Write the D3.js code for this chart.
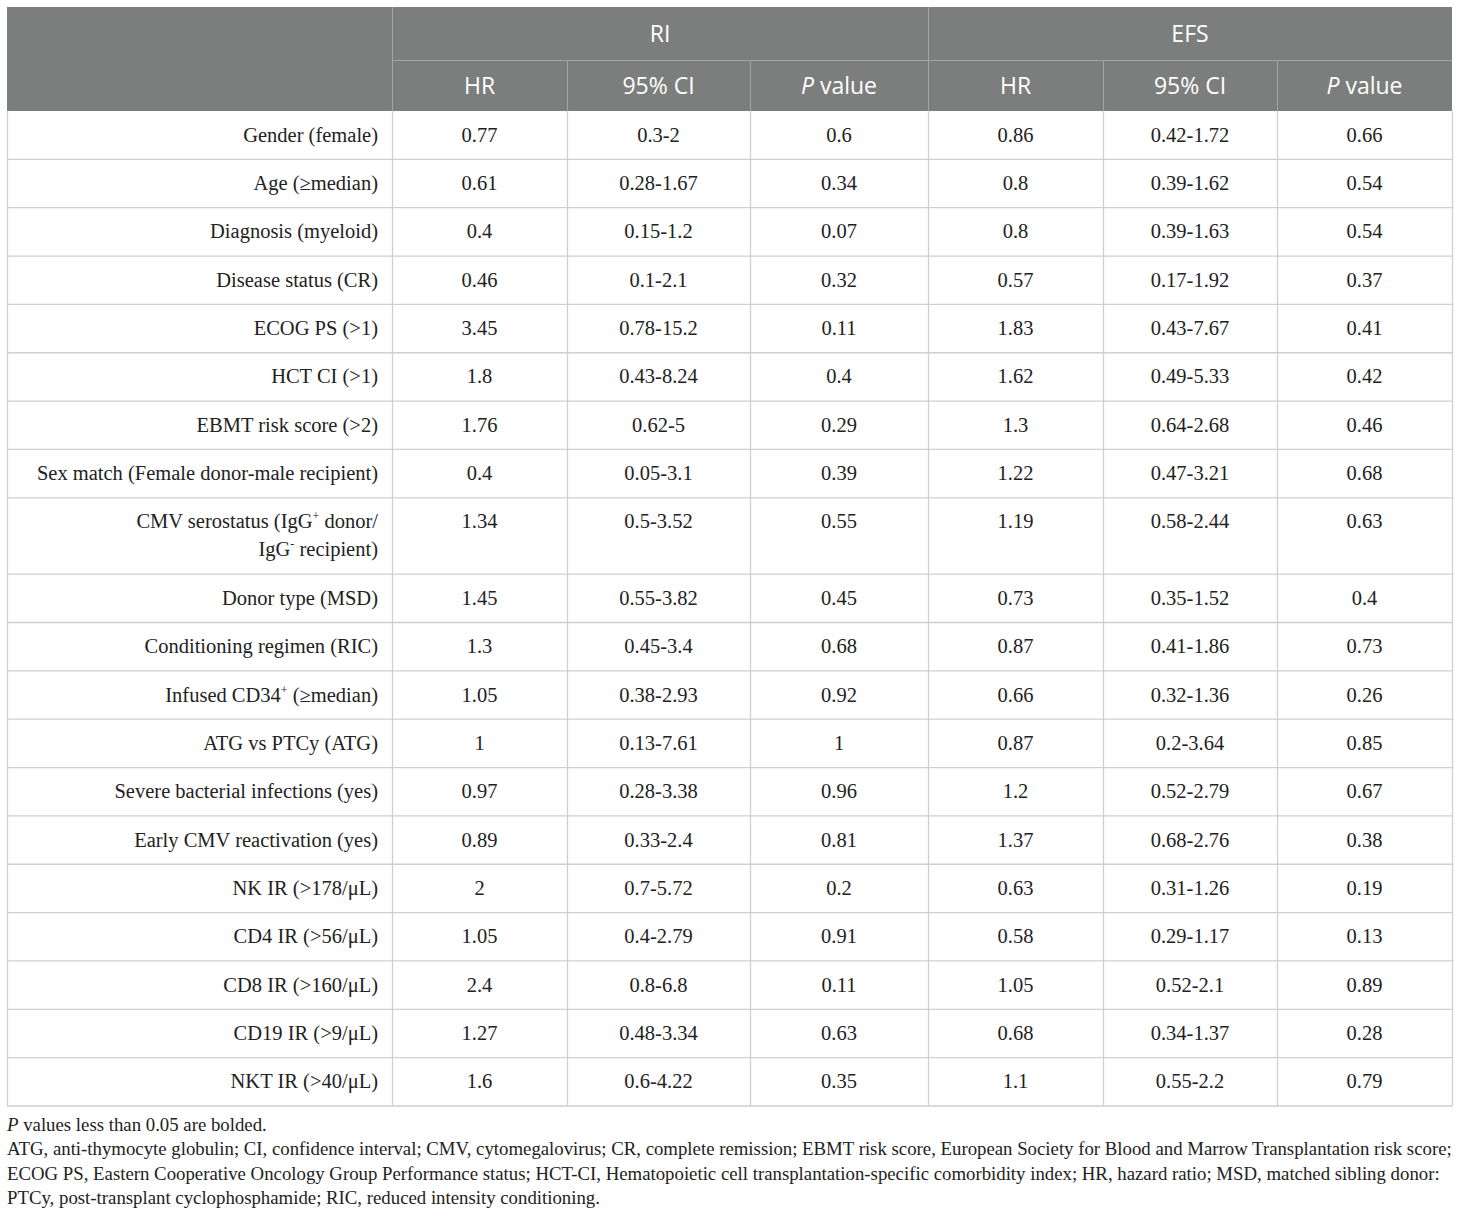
<!DOCTYPE html>
<html>
<head>
<meta charset="utf-8">
<script src="https://cdn.jsdelivr.net/npm/d3@7"></script>
<style>
  body { margin: 0; background: #fff; }
  svg { display: block; }
</style>
</head>
<body>
<svg id="chart" width="1460" height="1216"></svg>
<script>
// table content
var groups = ["RI", "EFS"];
var subHeads = ["HR", "95% CI", "P value"];

var labels = [
  "Gender (female)",
  "Age (\u2265median)",
  "Diagnosis (myeloid)",
  "Disease status (CR)",
  "ECOG PS (>1)",
  "HCT CI (>1)",
  "EBMT risk score (>2)",
  "Sex match (Female donor-male recipient)",
  "CMV serostatus (IgG^+ donor/|IgG^- recipient)",
  "Donor type (MSD)",
  "Conditioning regimen (RIC)",
  "Infused CD34^+ (\u2265median)",
  "ATG vs PTCy (ATG)",
  "Severe bacterial infections (yes)",
  "Early CMV reactivation (yes)",
  "NK IR (>178/\u03bcL)",
  "CD4 IR (>56/\u03bcL)",
  "CD8 IR (>160/\u03bcL)",
  "CD19 IR (>9/\u03bcL)",
  "NKT IR (>40/\u03bcL)"
];

var riHR  = ["0.77","0.61","0.4","0.46","3.45","1.8","1.76","0.4","1.34","1.45","1.3","1.05","1","0.97","0.89","2","1.05","2.4","1.27","1.6"];
var riCI  = ["0.3-2","0.28-1.67","0.15-1.2","0.1-2.1","0.78-15.2","0.43-8.24","0.62-5","0.05-3.1","0.5-3.52","0.55-3.82","0.45-3.4","0.38-2.93","0.13-7.61","0.28-3.38","0.33-2.4","0.7-5.72","0.4-2.79","0.8-6.8","0.48-3.34","0.6-4.22"];
var riP   = ["0.6","0.34","0.07","0.32","0.11","0.4","0.29","0.39","0.55","0.45","0.68","0.92","1","0.96","0.81","0.2","0.91","0.11","0.63","0.35"];
var efsHR = ["0.86","0.8","0.8","0.57","1.83","1.62","1.3","1.22","1.19","0.73","0.87","0.66","0.87","1.2","1.37","0.63","0.58","1.05","0.68","1.1"];
var efsCI = ["0.42-1.72","0.39-1.62","0.39-1.63","0.17-1.92","0.43-7.67","0.49-5.33","0.64-2.68","0.47-3.21","0.58-2.44","0.35-1.52","0.41-1.86","0.32-1.36","0.2-3.64","0.52-2.79","0.68-2.76","0.31-1.26","0.29-1.17","0.52-2.1","0.34-1.37","0.55-2.2"];
var efsP  = ["0.66","0.54","0.54","0.37","0.41","0.42","0.46","0.68","0.63","0.4","0.73","0.26","0.85","0.67","0.38","0.19","0.13","0.89","0.28","0.79"];

var footnotes = [
  "*P* values less than 0.05 are bolded.",
  "ATG, anti-thymocyte globulin; CI, confidence interval; CMV, cytomegalovirus; CR, complete remission; EBMT risk score, European Society for Blood and Marrow Transplantation risk score;",
  "ECOG PS, Eastern Cooperative Oncology Group Performance status; HCT-CI, Hematopoietic cell transplantation-specific comorbidity index; HR, hazard ratio; MSD, matched sibling donor:",
  "PTCy, post-transplant cyclophosphamide; RIC, reduced intensity conditioning."
];

// layout
var colEdges = [7, 392, 567, 750, 928, 1103, 1277, 1452];
var tableTop = 7, head1 = 53, head2 = 51, rowH = 48.35, lineH = 28;
var headFill = "#7c7e7d", gridCol = "#cfcfcf", headLine = "#a3a5a4";
var serif = "'Liberation Serif', 'DejaVu Serif', serif";
var sans = "'Open Sans', 'Noto Sans', sans-serif";

var svg = d3.select("#chart");

var rows = labels.map(function(l, i) {
  return {label: l.split("|"), vals: [riHR[i], riCI[i], riP[i], efsHR[i], efsCI[i], efsP[i]]};
});
var y0 = tableTop + head1 + head2;
rows.forEach(function(r) {
  r.y = y0;
  r.h = rowH + (r.label.length - 1) * lineH;
  y0 += r.h;
});
var tableBottom = y0;

// header background
svg.append("rect")
    .attr("x", colEdges[0]).attr("y", tableTop)
    .attr("width", colEdges[7] - colEdges[0]).attr("height", head1 + head2)
    .attr("fill", headFill);

// header lines
var hl = svg.append("g").attr("stroke", headLine).attr("stroke-width", 1);
hl.append("line").attr("x1", colEdges[1]).attr("x2", colEdges[7])
    .attr("y1", tableTop + head1 + 0.5).attr("y2", tableTop + head1 + 0.5);
[1, 4].forEach(function(c) {
  hl.append("line").attr("x1", colEdges[c] + 0.5).attr("x2", colEdges[c] + 0.5)
      .attr("y1", tableTop).attr("y2", tableTop + head1 + head2);
});
[2, 3, 5, 6].forEach(function(c) {
  hl.append("line").attr("x1", colEdges[c] + 0.5).attr("x2", colEdges[c] + 0.5)
      .attr("y1", tableTop + head1).attr("y2", tableTop + head1 + head2);
});

// header text
groups.forEach(function(g, gi) {
  svg.append("text")
      .attr("x", (colEdges[1 + gi * 3] + colEdges[4 + gi * 3]) / 2)
      .attr("y", tableTop + head1 / 2 + 8)
      .attr("text-anchor", "middle")
      .attr("font-family", sans).attr("font-size", 23).attr("fill", "#fff")
      .text(g);
  subHeads.forEach(function(s, si) {
    var c = 1 + gi * 3 + si;
    var t = svg.append("text")
        .attr("x", (colEdges[c] + colEdges[c + 1]) / 2)
        .attr("y", tableTop + head1 + head2 / 2 + 8)
        .attr("text-anchor", "middle")
        .attr("font-family", sans).attr("font-size", 23).attr("fill", "#fff");
    if (s.indexOf("P ") === 0) {
      t.append("tspan").attr("font-style", "italic").text("P");
      t.append("tspan").text(s.slice(1));
    } else t.text(s);
  });
});

// body grid
var grid = svg.append("g").attr("stroke", gridCol).attr("stroke-width", 1.3).attr("fill", "none");
rows.forEach(function(r) {
  grid.append("line").attr("x1", colEdges[0]).attr("x2", colEdges[7])
      .attr("y1", r.y + r.h).attr("y2", r.y + r.h);
});
colEdges.forEach(function(x) {
  grid.append("line").attr("x1", x + 0.5).attr("x2", x + 0.5)
      .attr("y1", tableTop + head1 + head2).attr("y2", tableBottom);
});

// write text with ^+ superscripts
function richText(sel, str) {
  var parts = str.split(/(\^[+\-])/), back = 0;
  parts.forEach(function(p) {
    if (!p) return;
    if (p[0] === "^") {
      sel.append("tspan").attr("font-size", 12).attr("dy", -8).text(p[1]);
      back = 8;
    } else {
      sel.append("tspan").attr("dy", back || null).text(p);
      back = 0;
    }
  });
}

var body = svg.append("g").attr("font-family", serif).attr("font-size", 20.5).attr("fill", "#222");
rows.forEach(function(r) {
  var ty = r.y + rowH / 2 + 6.5;
  r.label.forEach(function(line, li) {
    var t = body.append("text")
        .attr("x", colEdges[1] - 14)
        .attr("y", ty + li * lineH)
        .attr("text-anchor", "end");
    richText(t, line.trim());
  });
  r.vals.forEach(function(v, vi) {
    body.append("text")
        .attr("x", (colEdges[vi + 1] + colEdges[vi + 2]) / 2)
        .attr("y", ty)
        .attr("text-anchor", "middle")
        .text(v);
  });
});

// footnotes
var fn = svg.append("g").attr("font-family", serif).attr("font-size", 18.8).attr("fill", "#222");
footnotes.forEach(function(f, i) {
  var t = fn.append("text").attr("x", colEdges[0]).attr("y", tableBottom + 25 + i * 24.4);
  f.split(/(\*[^*]+\*)/).forEach(function(p) {
    if (!p) return;
    if (p[0] === "*") t.append("tspan").attr("font-style", "italic").text(p.slice(1, -1));
    else t.append("tspan").text(p);
  });
});
</script>
</body>
</html>
